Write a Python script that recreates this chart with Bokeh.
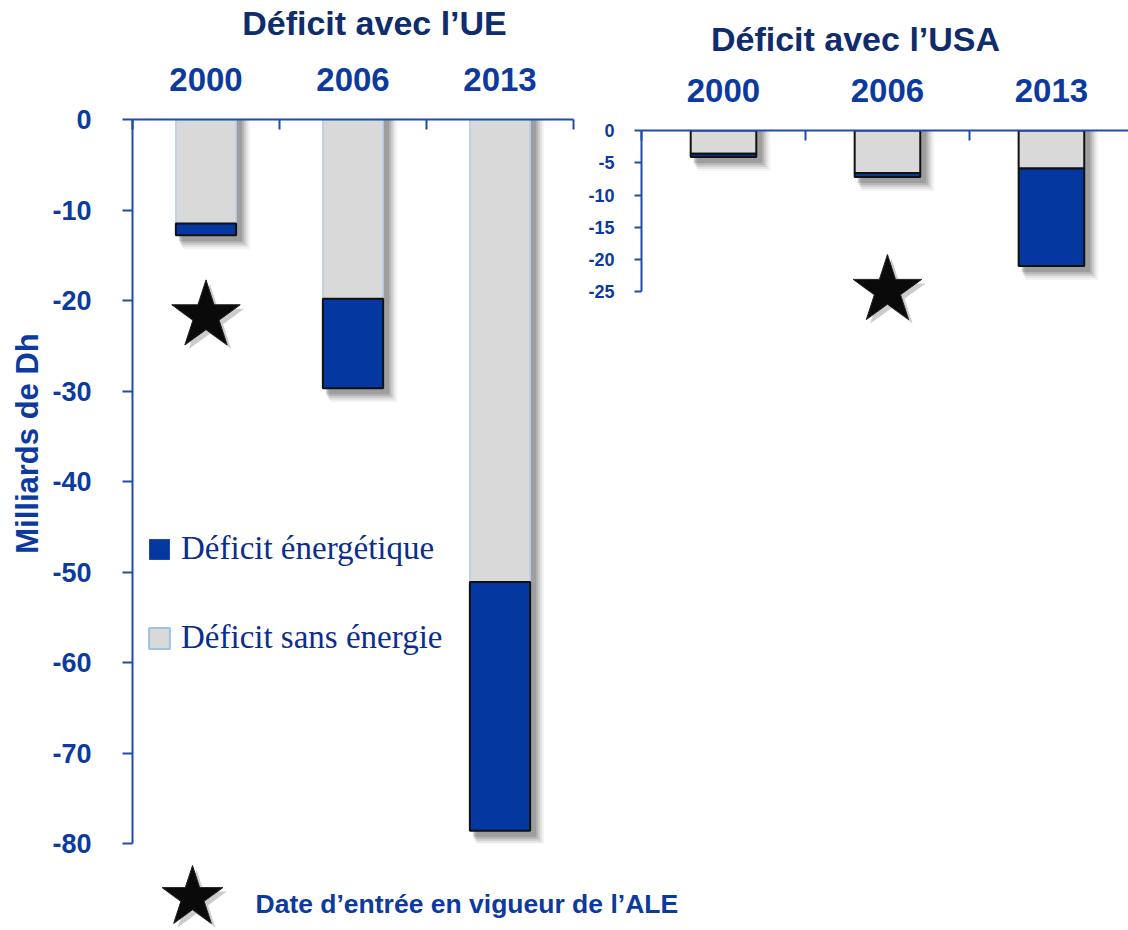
import math
from bokeh.plotting import figure
from bokeh.models import Range1d, FixedTicker, Legend, LegendItem, ColumnDataSource
from bokeh.layouts import row, column
from bokeh.embed import file_html
from bokeh.resources import INLINE
from bokeh.core.properties import value

# ---------------- data ----------------
years = ["2000", "2006", "2013"]
ue_sans_energie = [-11.5, -19.8, -51.1]
ue_energie = [-1.3, -9.9, -27.5]
usa_sans_energie = [-3.6, -6.6, -5.9]
usa_energie = [-0.5, -0.6, -15.1]
ue_ticks = [0, -10, -20, -30, -40, -50, -60, -70, -80]
ue_tick_labels = ["0", "-10", "-20", "-30", "-40", "-50", "-60", "-70", "-80"]
usa_ticks = [0, -5, -10, -15, -20, -25]
usa_tick_labels = ["0", "-5", "-10", "-15", "-20", "-25"]
ale_year_ue, ale_depth_ue = "2000", -21.7
ale_year_usa, ale_depth_usa = "2006", -24.8
title_ue = "Déficit avec l’UE"
title_usa = "Déficit avec l’USA"
y_label = "Milliards de Dh"
legend_labels = ["Déficit énergétique", "Déficit sans énergie"]
note_text = "Date d’entrée en vigueur de l’ALE"

# ---------------- styles ----------------
BLUE = "#0537A0"
GRAY = "#D9D9D9"
AXIS = "#1E4CAB"
TXT = "#0C3A9E"
NAVY = "#0F2C6C"
FONT = "Liberation Sans"


def text_fig(w, h, bt=0, bb=0, bl=0):
    f = figure(width=w, height=h, x_range=Range1d(0, w - bl), y_range=Range1d(0, h - bt - bb),
               output_backend="svg", toolbar_location=None, min_border=0,
               min_border_top=bt, min_border_bottom=bb, min_border_left=bl,
               x_axis_location=None, y_axis_location=None, outline_line_color=None,
               align="start")
    f.xgrid.visible = False
    f.ygrid.visible = False
    return f


def make_panel(sans, energie, ticks, tick_labels, y_floor, x_end, W, H,
               bl, br, bt, bb, bar_w, gray_line, gray_lw, tick_font, tick_out,
               tick_standoff, year_standoff, star_year, star_depth, star_size):
    p = figure(width=W, height=H, x_range=Range1d(0, x_end), y_range=Range1d(y_floor, 0),
               x_axis_location="above", output_backend="svg", toolbar_location=None,
               min_border_left=bl, min_border_right=br, min_border_top=bt,
               min_border_bottom=bb, outline_line_color=None, align="start")
    p.xgrid.visible = False
    p.ygrid.visible = False
    frame_w = W - bl - br
    frame_h = H - bt - bb
    px_x = frame_w / x_end
    px_y = frame_h / (-y_floor)
    n = len(years)
    xc = [i + 0.5 for i in range(n)]
    totals = [s + e for s, e in zip(sans, energie)]

    # soft shadows
    for dx0, dx1, dy, a in [(7, 14, 14, 0.06), (6, 12, 12, 0.09), (5, 10, 10, 0.13),
                            (4, 8, 8, 0.17), (3, 6, 6, 0.2)]:
        p.quad(left=[x - bar_w / 2 + dx0 / px_x for x in xc],
               right=[x + bar_w / 2 + dx1 / px_x for x in xc],
               top=[0] * n, bottom=[t - dy / px_y for t in totals],
               fill_color="#404040", fill_alpha=a, line_color=None)

    src = ColumnDataSource(dict(x=xc, zero=[0] * n, sans=sans, tot=totals))
    p.vbar(x="x", top="zero", bottom="sans", width=bar_w, source=src,
           fill_color=GRAY, line_color=gray_line, line_width=gray_lw)
    p.vbar(x="x", top="sans", bottom="tot", width=bar_w, source=src,
           fill_color=BLUE, line_color="#111111", line_width=2)

    sx = years.index(star_year) + 0.5
    p.scatter(x=[sx + 4 / px_x], y=[star_depth - 4 / px_y], marker="star", size=star_size,
              fill_color="#555555", fill_alpha=0.3, line_color=None)
    p.scatter(x=[sx], y=[star_depth], marker="star", size=star_size,
              fill_color="#0A0A0A", line_color="#222222", line_width=1)

    ya = p.yaxis[0]
    ya.ticker = FixedTicker(ticks=ticks)
    ya.major_label_overrides = {t: l for t, l in zip(ticks, tick_labels)}
    ya.bounds = (ticks[-1], 0)
    ya.axis_line_color = AXIS
    ya.axis_line_width = 2
    ya.major_tick_line_color = AXIS
    ya.major_tick_line_width = 2
    ya.major_tick_in = 0
    ya.major_tick_out = tick_out
    ya.minor_tick_line_color = None
    ya.major_label_text_font = FONT
    ya.major_label_text_font_style = "bold"
    ya.major_label_text_font_size = tick_font
    ya.major_label_text_color = TXT
    ya.major_label_standoff = tick_standoff

    xa = p.xaxis[0]
    xa.ticker = FixedTicker(ticks=xc, minor_ticks=list(range(n + 1)))
    xa.major_label_overrides = {x: y for x, y in zip(xc, years)}
    xa.axis_line_color = AXIS
    xa.axis_line_width = 2
    xa.major_tick_in = 0
    xa.major_tick_out = 0
    xa.major_tick_line_color = None
    xa.minor_tick_in = 10
    xa.minor_tick_out = 0
    xa.minor_tick_line_color = AXIS
    xa.minor_tick_line_width = 2
    xa.major_label_text_font = FONT
    xa.major_label_text_font_style = "bold"
    xa.major_label_text_font_size = "33px"
    xa.major_label_text_color = TXT
    xa.major_label_standoff = year_standoff
    return p


def title_text(f, x, y, t):
    f.text(x=[x], y=[y], text=[t], text_font=value(FONT), text_font_style="bold",
           text_font_size=value("34px"), text_color=NAVY, text_align="center",
           text_baseline="middle")


LEFT_W = 583
RIGHT_W = 1128 - LEFT_W

# ---- left column: title strip + (y label strip, UE panel) ----
HL = 54
hdr_l = text_fig(LEFT_W, HL)
title_text(hdr_l, 374, HL - 22, title_ue)

LB_T = 119 - HL
LEFT_H = LB_T + 724 + 19
left = make_panel(ue_sans_energie, ue_energie, ue_ticks, ue_tick_labels,
                  y_floor=-80, x_end=3, W=LEFT_W - 45, H=LEFT_H, bl=87, br=10,
                  bt=LB_T, bb=19, bar_w=0.41, gray_line="#B5CCE8", gray_lw=1.5,
                  tick_font="27px", tick_out=10, tick_standoff=31, year_standoff=29,
                  star_year=ale_year_ue, star_depth=ale_depth_ue, star_size=72)

r_blue = left.vbar(x=[-5], top=[0], bottom=[-1], width=0.4, fill_color=BLUE, line_color=None)
r_gray = left.vbar(x=[-5], top=[0], bottom=[-1], width=0.4, fill_color=GRAY,
                   line_color="#9DC3E6", line_width=2)
leg = Legend(items=[LegendItem(label=legend_labels[0], renderers=[r_blue]),
                    LegendItem(label=legend_labels[1], renderers=[r_gray])],
             location=(14, 187), glyph_width=26, glyph_height=26, label_standoff=9,
             spacing=52, padding=0, margin=0, border_line_color=None,
             background_fill_alpha=0, label_text_font="Liberation Serif",
             label_text_font_size="33px", label_text_color="#0B2E8E")
left.add_layout(leg, "center")

ylab = text_fig(45, LEFT_H, bt=LB_T, bb=19)
ylab.text(x=[27], y=[843 - 443], text=[y_label], angle=math.pi / 2,
          text_font=value(FONT), text_font_style="bold", text_font_size=value("31px"),
          text_color=TXT, text_align="center", text_baseline="middle")

left_col = column(hdr_l, row(ylab, left))

# ---- right column: title strip + USA panel ----
HR = 64
RB_L = 58
hdr_r = text_fig(RIGHT_W, HR, bl=RB_L)
title_text(hdr_r, 855 - LEFT_W - RB_L, HR - 38, title_usa)

RB_T = 130 - HR
right = make_panel(usa_sans_energie, usa_energie, usa_ticks, usa_tick_labels,
                   y_floor=-31, x_end=2.97, W=RIGHT_W, H=RB_T + 200 + 10, bl=RB_L, br=0,
                   bt=RB_T, bb=10, bar_w=0.40, gray_line="#111111", gray_lw=2,
                   tick_font="18px", tick_out=7, tick_standoff=20, year_standoff=29,
                   star_year=ale_year_usa, star_depth=ale_depth_usa, star_size=72)
right_col = column(hdr_r, right)

# ---- note below ----
TOP_H = HL + LEFT_H
NH = 930 - TOP_H
note = text_fig(1128, NH)
note.scatter(x=[196], y=[930 - 901], marker="star", size=64, fill_color="#555555",
             fill_alpha=0.3, line_color=None)
note.scatter(x=[192], y=[930 - 897], marker="star", size=64, fill_color="#0A0A0A",
             line_color="#222222")
note.text(x=[255], y=[930 - 903], text=[note_text], text_font=value(FONT),
          text_font_style="bold", text_font_size=value("26.5px"), text_color=TXT,
          text_baseline="middle", text_align="left")

layout = column(row(left_col, right_col), note)
open("out.html", "w").write(file_html(layout, INLINE))
